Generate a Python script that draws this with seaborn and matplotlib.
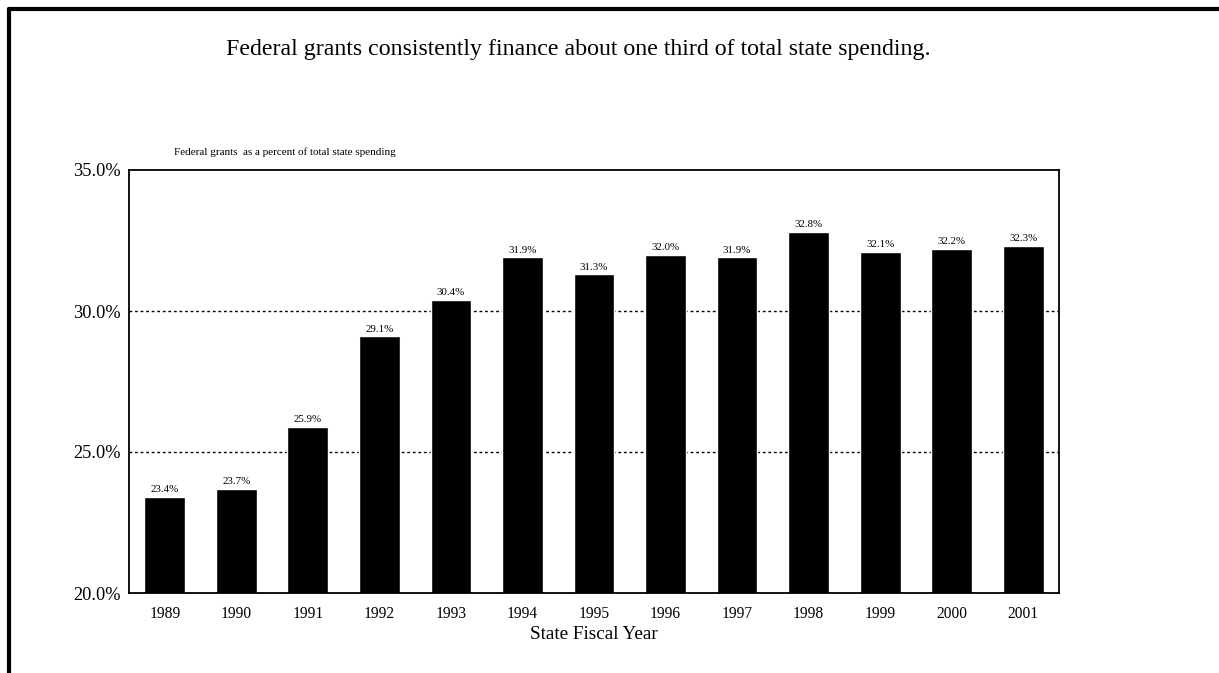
import matplotlib
matplotlib.use("Agg")
import matplotlib.pyplot as plt
import seaborn as sns
import pandas as pd
from matplotlib.lines import Line2D

years = ["1989", "1990", "1991", "1992", "1993", "1994", "1995",
         "1996", "1997", "1998", "1999", "2000", "2001"]
share = [23.4, 23.7, 25.9, 29.1, 30.4, 31.9, 31.3, 32.0, 31.9, 32.8, 32.1, 32.2, 32.3]
y_ticks = [20.0, 25.0, 30.0, 35.0]

df = pd.DataFrame({"year": years, "share": share})

sns.set_style("white")
plt.rcParams["font.family"] = ["Liberation Serif", "DejaVu Serif"]
plt.rcParams["text.color"] = "black"
plt.rcParams["xtick.color"] = "black"
plt.rcParams["ytick.color"] = "black"
plt.rcParams["axes.labelcolor"] = "black"

fig = plt.figure(figsize=(12.19, 6.73), dpi=100)
ax = fig.add_axes([129 / 1219, 1 - 593 / 673, 930 / 1219, 423 / 673])

sns.barplot(data=df, x="year", y="share", color="black", width=0.57,
            saturation=1, ax=ax)

ax.set_ylim(20, 35)
ax.set_xlim(-0.5, len(years) - 0.5)
ax.set_yticks(y_ticks)
ax.set_yticklabels([f"{v:.1f}%" for v in y_ticks], fontsize=13.2)
ax.tick_params(axis="x", labelsize=11.2, length=0, pad=9.5)
ax.tick_params(axis="y", length=0, pad=6)
for v in y_ticks[1:-1]:
    ax.axhline(v, color="black", linestyle=(0, (2, 2)), linewidth=1, zorder=0)

for i, v in enumerate(share):
    ax.text(i, v + 0.1, f"{v:.1f}%", ha="center", va="bottom", fontsize=7.8)

for s in ax.spines.values():
    s.set_visible(True)
    s.set_color("black")
    s.set_linewidth(1.3)

ax.set_xlabel("State Fiscal Year", fontsize=13.8, labelpad=3)
ax.set_ylabel("")

fig.text(174 / 1219, 1 - 152 / 673, "Federal grants  as a percent of total state spending",
         fontsize=8, va="center", ha="left")
fig.text(578 / 1219, 1 - 49 / 673,
         "Federal grants consistently finance about one third of total state spending.",
         fontsize=17.2, va="center", ha="center")

# outer frame (top and left)
fig.add_artist(Line2D([9 / 1219, 1.0], [1 - 9 / 673, 1 - 9 / 673],
                      transform=fig.transFigure, color="black", linewidth=3))
fig.add_artist(Line2D([9 / 1219, 9 / 1219], [0, 1 - 9 / 673],
                      transform=fig.transFigure, color="black", linewidth=3))

fig.savefig("out.png", dpi=100)
